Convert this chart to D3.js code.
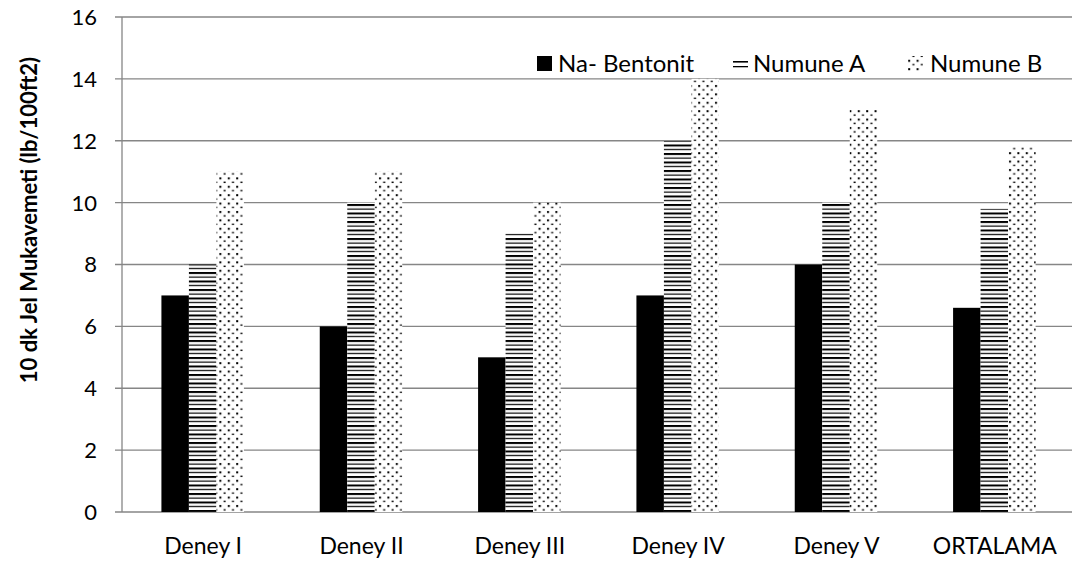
<!DOCTYPE html>
<html><head><meta charset="utf-8">
<script src="https://cdn.jsdelivr.net/npm/d3@7"></script>
<style>body{margin:0;background:#fff}svg{display:block}text{font-family:Lato,"Open Sans",sans-serif;fill:#000}</style>
</head><body>
<svg id="c" width="1089" height="565"></svg>
<script>
const categories = ["Deney I","Deney II","Deney III","Deney IV","Deney V","ORTALAMA"];
const seriesNames = ["Na- Bentonit","Numune A","Numune B"];
const naBentonit = [7,6,5,7,8,6.6];
const numuneA = [8,10,9,12,10,9.8];
const numuneB = [11,11,10,14,13,11.8];
const yTicks = [0,2,4,6,8,10,12,14,16];
const yTitle = "10 dk Jel Mukavemeti (lb/100ft2)";

const series = [naBentonit, numuneA, numuneB];
const fills = ["#000","url(#stripes)","url(#dots)"];
const svg = d3.select("#c");
const defs = svg.append("defs");
const ps = defs.append("pattern").attr("id","stripes").attr("patternUnits","userSpaceOnUse").attr("width",8).attr("height",8.5);
ps.append("rect").attr("width",8).attr("height",8.5).attr("fill","#fff");
ps.append("rect").attr("y",0).attr("width",8).attr("height",2).attr("fill","#000");
ps.append("rect").attr("y",4.5).attr("width",8).attr("height",1.2).attr("fill","#000");
const pd = defs.append("pattern").attr("id","dots").attr("patternUnits","userSpaceOnUse").attr("width",8.4).attr("height",8.4);
pd.append("rect").attr("width",8.4).attr("height",8.4).attr("fill","#fff");
pd.append("rect").attr("x",1).attr("y",1).attr("width",2).attr("height",2).attr("fill","#000");
pd.append("rect").attr("x",5.2).attr("y",5.2).attr("width",2).attr("height",1.4).attr("fill","#000");

const L=122,R=1072,T=17,B=512;
const x = d3.scaleBand().domain(categories).range([L,R]);
const y = d3.scaleLinear().domain([0,16]).range([B,T]);
const barW = 27.5;

// gridlines
svg.append("g").selectAll("line").data(yTicks).join("line")
  .attr("x1",L-7).attr("x2",R).attr("y1",d=>y(d)).attr("y2",d=>y(d))
  .attr("stroke","#868686").attr("stroke-width",1.3);
svg.append("line").attr("x1",L).attr("x2",L).attr("y1",T).attr("y2",B).attr("stroke","#868686").attr("stroke-width",1.3);

// bars
series.forEach((s,i)=>{
  svg.append("g").selectAll("rect").data(s).join("rect")
    .attr("x",(d,j)=>x(categories[j])+x.bandwidth()/2-1.5*barW+i*barW+1.5)
    .attr("width",barW)
    .attr("y",d=>y(d)).attr("height",d=>B-y(d))
    .attr("fill",fills[i]);
});

// y tick labels
svg.append("g").selectAll("text").data(yTicks).join("text")
  .attr("x",L-25).attr("y",d=>y(d)).attr("dy","0.36em").attr("text-anchor","end")
  .attr("font-size",22).text(d=>d);
// x labels
svg.append("g").selectAll("text").data(categories).join("text")
  .attr("x",d=>x(d)+x.bandwidth()/2+2).attr("y",546).attr("dy","0.36em").attr("text-anchor","middle")
  .attr("font-size",23).text(d=>d);
// y title
svg.append("text").attr("transform","translate(29,220) rotate(-90)").attr("text-anchor","middle")
  .attr("dy","0.36em").attr("font-size",22).attr("font-weight","bold").text(yTitle);

// legend
const legX=[537,733,908];
const legTX=[558,753,930];
seriesNames.forEach((n,i)=>{
  if(i===1){
    svg.append("rect").attr("x",legX[i]).attr("y",61).attr("width",15).attr("height",1.6).attr("fill","#000");
    svg.append("rect").attr("x",legX[i]).attr("y",66).attr("width",15).attr("height",1.3).attr("fill","#000");
  } else {
    svg.append("rect").attr("x",legX[i]).attr("y",56).attr("width",15).attr("height",15).attr("fill",fills[i]);
  }
  svg.append("text").attr("x",legTX[i]).attr("y",63.5).attr("dy","0.36em").attr("font-size",24).text(n);
});
</script>
</body></html>
